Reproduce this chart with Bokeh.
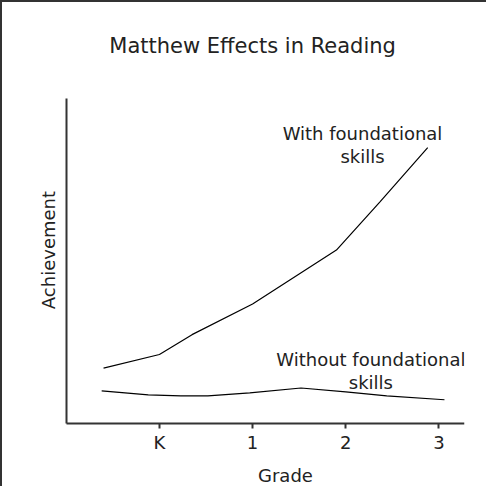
import math
from bokeh.plotting import figure
from bokeh.models import FixedTicker, Range1d, ColumnDataSource
from bokeh.core.properties import value
from bokeh.embed import file_html
from bokeh.resources import INLINE

# Data
title_text = "Matthew Effects in Reading"
y_label = "Achievement"
x_label = "Grade"
grades = ["K", "1", "2", "3"]
grade_pos = [0, 1, 2, 3]
with_x = [-0.6, 0.0, 0.35, 1.0, 1.9, 2.37, 2.88]
with_y = [17, 21.2, 27.3, 36.7, 53.3, 68.2, 84.8]
without_x = [-0.62, -0.12, 0.23, 0.52, 0.97, 1.52, 2.0, 2.44, 3.06]
without_y = [10, 8.8, 8.5, 8.5, 9.4, 10.9, 9.7, 8.5, 7.3]
label_text = ["With foundational\nskills", "Without foundational\nskills"]
label_x = [2.18, 2.27]
label_y = [85.7, 16.0]

FONT = "DejaVu Sans"
TXT = "#222222"
X0, X1 = -1.0, 3.27   # axis extent
Y0, Y1 = 0, 100

p = figure(width=486, height=486, output_backend="svg", toolbar_location=None,
           x_range=Range1d(-1.47, 3.275), y_range=Range1d(-19.98, 126.3),
           min_border_left=20, min_border_right=24, min_border_top=10, min_border_bottom=0)
p.outline_line_color = None
p.grid.visible = False
p.background_fill_color = "white"
p.border_fill_color = "white"
p.styles = {"border-left": "2px solid #333333", "border-top": "2px solid #333333"}

# title
p.text(x=[1.0], y=[116.0], text=[title_text], text_align="center",
       text_baseline="middle", text_font=value(FONT), text_font_size="21px", text_color=TXT)
# axis titles
p.text(x=[-1.19], y=[53.3], text=[y_label], angle=math.pi / 2, text_align="center",
       text_baseline="middle", text_font=value(FONT), text_font_size="18px", text_color=TXT)
p.text(x=[1.353], y=[-16.0], text=[x_label], text_align="center",
       text_baseline="middle", text_font=value(FONT), text_font_size="18px", text_color=TXT)

p.line(with_x, with_y, line_color="black", line_width=1.2)
p.line(without_x, without_y, line_color="black", line_width=1.2)

src = ColumnDataSource(dict(x=label_x, y=label_y, t=label_text))
p.text("x", "y", text="t", source=src, text_align="center", text_baseline="middle",
       text_font=value(FONT), text_font_size="18px", text_color=TXT, text_line_height=1.1)

xa = p.xaxis[0]
xa.fixed_location = Y0
xa.bounds = (X0, X1)
xa.ticker = FixedTicker(ticks=grade_pos)
xa.major_label_overrides = {pos: g for pos, g in zip(grade_pos, grades)}
xa.axis_line_width = 2
xa.axis_line_color = "#333333"
xa.major_tick_line_width = 2
xa.major_tick_line_color = "#333333"
xa.major_tick_out = 5
xa.major_tick_in = 0
xa.minor_tick_line_color = None
xa.major_label_standoff = 4
xa.major_label_text_font = FONT
xa.major_label_text_font_size = "18px"
xa.major_label_text_color = TXT

ya = p.yaxis[0]
ya.fixed_location = X0
ya.bounds = (Y0, Y1)
ya.ticker = FixedTicker(ticks=[])
ya.axis_line_width = 2
ya.axis_line_color = "#333333"
ya.major_tick_line_color = None
ya.minor_tick_line_color = None

open("out.html", "w").write(file_html(p, INLINE))
